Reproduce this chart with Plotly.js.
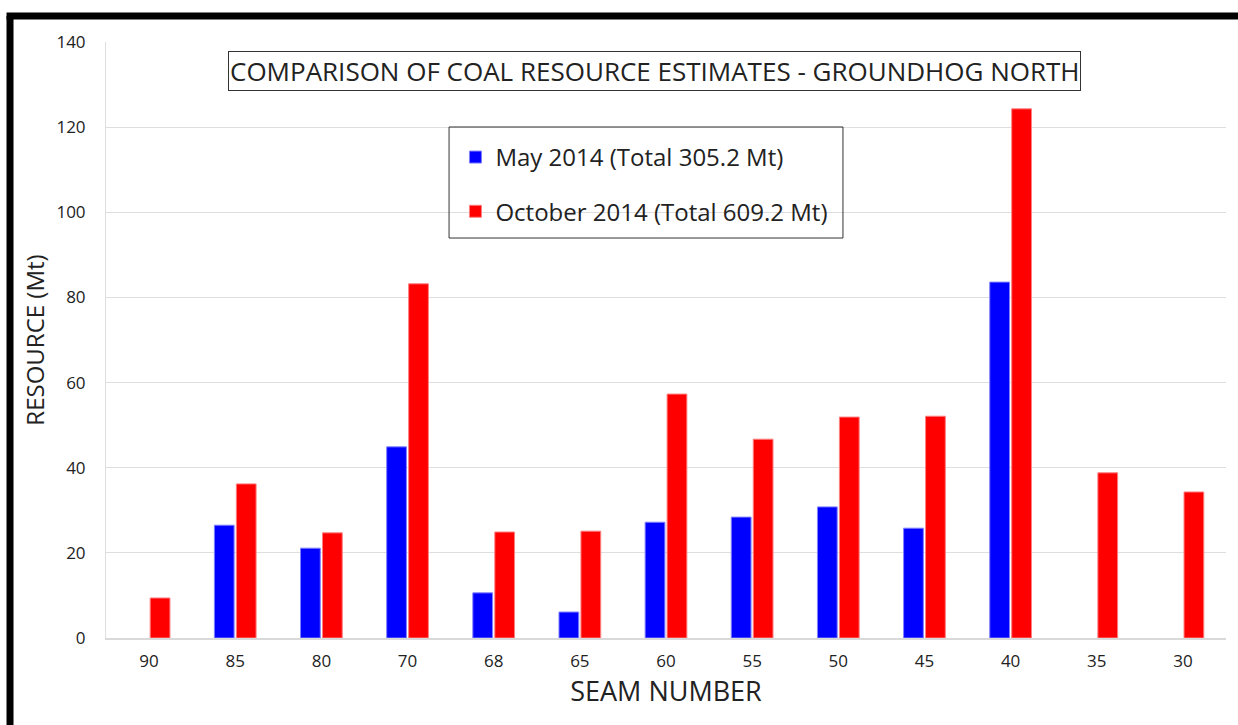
<!DOCTYPE html>
<html><head><meta charset="utf-8">
<script src="https://cdn.plot.ly/plotly-3.0.1.min.js"></script>
<style>html,body{margin:0;padding:0;background:#fff;}#chart{width:1238px;height:725px;}</style>
</head><body><div id="chart"></div>
<script>
const seams = ["90","85","80","70","68","65","60","55","50","45","40","35","30"];
const may2014 = [null,26.5,21.1,44.9,10.6,6.1,27.2,28.4,30.8,25.8,83.6,null,null];
const oct2014 = [9.4,36.2,24.7,83.2,24.9,25.1,57.3,46.7,51.9,52.1,124.3,38.8,34.3];
const seriesNames = ["May 2014 (Total 305.2 Mt)","October 2014 (Total 609.2 Mt)"];
const chartTitle = "COMPARISON OF COAL RESOURCE ESTIMATES - GROUNDHOG NORTH";

const F = "'Open Sans', 'Liberation Sans', sans-serif";
const traces = [
  {type:'bar', x:seams, y:may2014, name:seriesNames[0], legendgroup:'a',
   marker:{color:'#0000ff', line:{color:'#8080ff', width:1}}},
  {type:'bar', x:seams, y:oct2014, name:seriesNames[1], legendgroup:'b',
   marker:{color:'#ff0000', line:{color:'#ff8080', width:1}}}
];
const layout = {
  width:1238, height:725,
  margin:{l:106, r:12, t:42, b:87},
  paper_bgcolor:'#fff', plot_bgcolor:'#fff',
  font:{family:F, color:'#222'},
  barmode:'group', bargap:0.49, bargroupgap:0.1,
  showlegend:true,
  legend:{x:0.312, y:0.844, xanchor:'left', yanchor:'top', font:{size:24, family:F, color:'#222'},
          bgcolor:'rgba(0,0,0,0)', borderwidth:0, tracegroupgap:20, itemwidth:30},
  xaxis:{type:'category', showgrid:false, showline:true, linecolor:'#d9d9d9', linewidth:2,
         ticks:'', tickfont:{size:17, family:F, color:'#222'}, ticklabelstandoff:7,
         title:{text:'SEAM NUMBER', font:{size:27, family:F, color:'#222'}, standoff:8}},
  yaxis:{range:[0,140], dtick:20, showgrid:true, gridcolor:'#dedede', gridwidth:1,
         showline:true, linecolor:'#dedede', linewidth:1, zeroline:false, ticks:'',
         tickfont:{size:17, family:F, color:'#222'}, ticklabelstandoff:16,
         title:{text:'RESOURCE (Mt)', font:{size:24, family:F, color:'#222'}, standoff:5}},
  annotations:[
    {text:chartTitle, xref:'paper', yref:'paper', x:0.4893, y:0.9513, xanchor:'center', yanchor:'middle',
     showarrow:false, font:{size:26, family:F, color:'#222'}, bordercolor:'#333', borderwidth:1, borderpad:1, bgcolor:'#fff'}
  ],
  shapes:[
    {type:'rect', xref:'paper', yref:'paper', x0:0.3063, x1:0.6580, y0:0.6711, y1:0.8574,
     line:{color:'#333', width:1}, fillcolor:'rgba(0,0,0,0)', layer:'above'},
    {type:'line', xref:'paper', yref:'paper', x0:-0.0857, x1:-0.0857, y0:-0.2, y1:1.0436, line:{color:'#000', width:7}},
    {type:'line', xref:'paper', yref:'paper', x0:-0.0888, x1:1.02, y0:1.0436, y1:1.0436, line:{color:'#000', width:7}}
  ]
};
Plotly.newPlot('chart', traces, layout, {displayModeBar:false, staticPlot:true});
</script></body></html>
